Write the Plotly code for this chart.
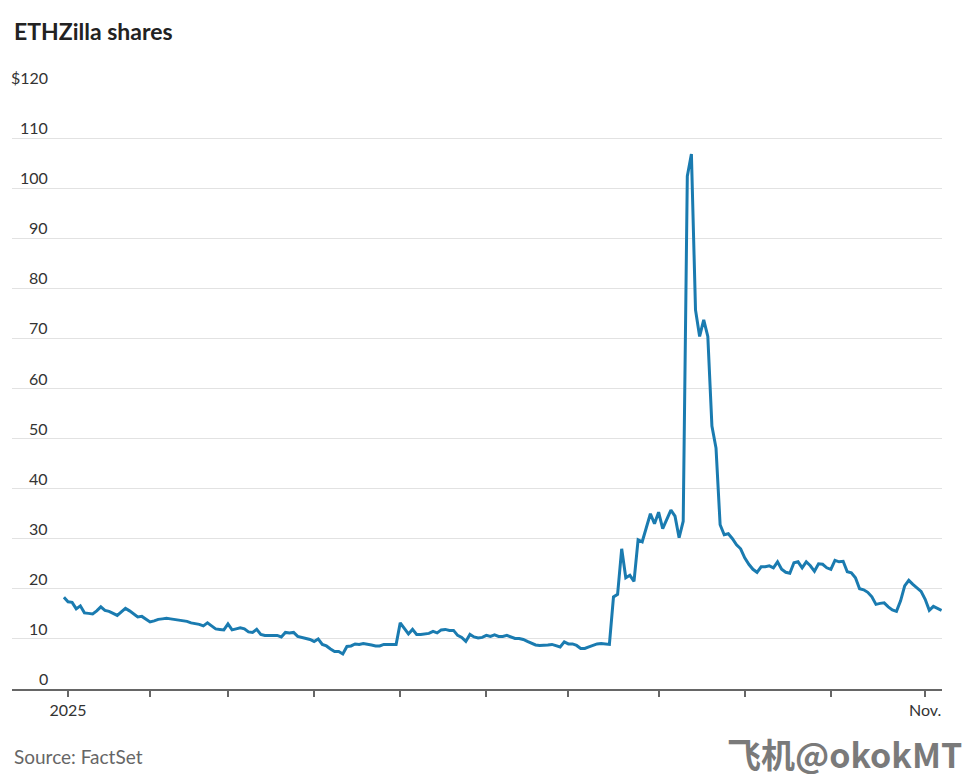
import pandas as pd
import plotly.graph_objects as go

# Market holidays (NYSE) used to build the trading-day calendar
holidays = ["2025-01-01", "2025-01-09", "2025-01-20", "2025-02-17", "2025-04-18",
            "2025-05-26", "2025-06-19", "2025-07-04", "2025-09-01"]
start_date = "2024-12-31"
end_date = "2025-11-07"

# Closing prices, one per trading day
prices = [
    18.3, 17.4, 17.3, 16.0, 16.6, 15.2, 15.1, 15.0, 15.6, 16.4,
    15.7, 15.5, 15.1, 14.7, 15.4, 16.1, 15.6, 15.0, 14.4, 14.5,
    14.0, 13.4, 13.6, 13.9, 14.0, 14.1, 14.0, 13.9, 13.7, 13.6,
    13.5, 13.2, 13.1, 12.9, 12.6, 13.2, 12.6, 12.0, 11.9, 11.8,
    13.0, 11.8, 12.0, 12.2, 12.0, 11.4, 11.3, 11.9, 10.9, 10.7,
    10.7, 10.7, 10.7, 10.4, 11.3, 11.2, 11.3, 10.5, 10.3, 10.2,
    9.9, 9.5, 10.0, 8.9, 8.6, 8.0, 7.5, 7.5, 7.0, 8.5,
    8.6, 9.0, 8.9, 9.1, 9.0, 8.8, 8.6, 8.6, 8.9, 8.9,
    8.9, 8.9, 13.2, 12.0, 11.0, 11.9, 10.9, 10.9, 11.0, 11.1,
    11.5, 11.2, 11.8, 11.9, 11.7, 11.7, 10.7, 10.3, 9.5, 10.9,
    10.4, 10.2, 10.3, 10.7, 10.5, 10.8, 10.5, 10.5, 10.7, 10.4,
    10.1, 10.1, 9.9, 9.5, 9.1, 8.8, 8.7, 8.7, 8.8, 8.9,
    8.7, 8.4, 9.4, 9.0, 9.0, 8.7, 8.1, 8.1, 8.4, 8.7,
    9.0, 9.1, 9.0, 8.9, 18.4, 18.9, 28.0, 22.2, 22.7, 21.5,
    29.8, 29.4, 32.2, 35.0, 33.0, 35.3, 32.0, 33.8, 35.7, 34.5,
    30.2, 33.5, 102.4, 106.8, 75.7, 70.4, 73.7, 70.4, 52.5, 48.1,
    32.8, 30.8, 31.0, 30.0, 28.8, 28.0, 26.2, 24.9, 23.9, 23.3,
    24.4, 24.4, 24.6, 24.2, 25.4, 23.9, 23.3, 23.1, 25.2, 25.4,
    24.2, 25.4, 24.6, 23.5, 25.0, 24.9, 24.2, 23.9, 25.7, 25.4,
    25.5, 23.4, 23.2, 22.2, 20.0, 19.8, 19.3, 18.4, 16.9, 17.1,
    17.2, 16.4, 15.8, 15.5, 17.6, 20.6, 21.7, 20.9, 20.2, 19.5,
    17.9, 15.7, 16.5, 16.1, 15.7,
]

y_ticks = [0, 10, 20, 30, 40, 50, 60, 70, 80, 90, 100, 110, 120]
y_tick_labels = ["0", "10", "20", "30", "40", "50", "60", "70", "80", "90", "100", "110", "$120"]
month_labels = {1: "2025", 11: "Nov."}

FONT = "Lato, 'Noto Sans', sans-serif"
LINE_COLOR = "#1a7bb0"

bday = pd.offsets.CustomBusinessDay(holidays=holidays)
dates = pd.date_range(start_date, end_date, freq=bday)
assert len(dates) == len(prices), (len(dates), len(prices))
date_str = [d.strftime("%Y-%m-%d") for d in dates]

# first trading day of each month of 2025
tickvals, ticktext = [], []
for m in range(1, 12):
    first = next(d for d in dates if d.year == 2025 and d.month == m)
    tickvals.append(first.strftime("%Y-%m-%d"))
    ticktext.append(month_labels.get(m, ""))

fig = go.Figure()
fig.add_trace(go.Scatter(
    x=date_str, y=prices, mode="lines",
    line=dict(color=LINE_COLOR, width=3), hoverinfo="x+y",
))

W, H = 972, 779
L, R, T, B = 12, 30, 88, 90
plot_w = W - L - R
plot_h = H - T - B

fig.update_layout(
    width=W, height=H,
    margin=dict(l=L, r=R, t=T, b=B),
    paper_bgcolor="white", plot_bgcolor="white",
    showlegend=False,
    font=dict(family=FONT, size=16, color="#333333"),
    xaxis=dict(
        type="category",
        range=[-12.66, len(prices) - 1 + 0.1],
        tickmode="array", tickvals=tickvals, ticktext=ticktext,
        showgrid=False, zeroline=False,
        showline=True, linecolor="#666666", linewidth=2,
        ticks="outside", ticklen=6, tickwidth=1.5, tickcolor="#666666",
        tickfont=dict(family=FONT, size=16, color="#333333"),
        fixedrange=True,
    ),
    yaxis=dict(
        range=[0, 120],
        tickmode="array", tickvals=y_ticks,
        showticklabels=False,
        showgrid=True, gridcolor="#e2e2e2", gridwidth=1,
        zeroline=False, showline=False, ticks="",
        fixedrange=True,
    ),
)

annotations = []
for v, lab in zip(y_ticks, y_tick_labels):
    annotations.append(dict(
        xref="paper", yref="y", x=(50 - L) / plot_w, y=v,
        text=lab, showarrow=False, xanchor="right", yanchor="bottom",
        font=dict(family=FONT, size=16, color="#333333"), yshift=-1,
    ))

annotations.append(dict(
    xref="paper", yref="paper", x=0, y=(H - B - 31) / plot_h,
    text="<b>ETHZilla shares</b>", showarrow=False, xanchor="left", yanchor="middle",
    font=dict(family=FONT, size=23, color="#222222"),
))
annotations.append(dict(
    xref="paper", yref="paper", x=0, y=(H - B - 757) / plot_h,
    text="Source: FactSet", showarrow=False, xanchor="left", yanchor="middle",
    font=dict(family=FONT, size=19, color="#666666"),
))
annotations.append(dict(
    xref="paper", yref="paper", x=(964 - L) / plot_w, y=(H - B - 754) / plot_h,
    text="<b>飞机@okokMT</b>", showarrow=False, xanchor="right", yanchor="middle",
    font=dict(family="'Noto Sans CJK SC', sans-serif", size=34, color="#7a7a7a"),
))
fig.update_layout(annotations=annotations)

fig.write_html(
    "out.html",
    config={"displayModeBar": False},
    post_script="document.body.style.margin='0';document.body.style.padding='0';",
)
